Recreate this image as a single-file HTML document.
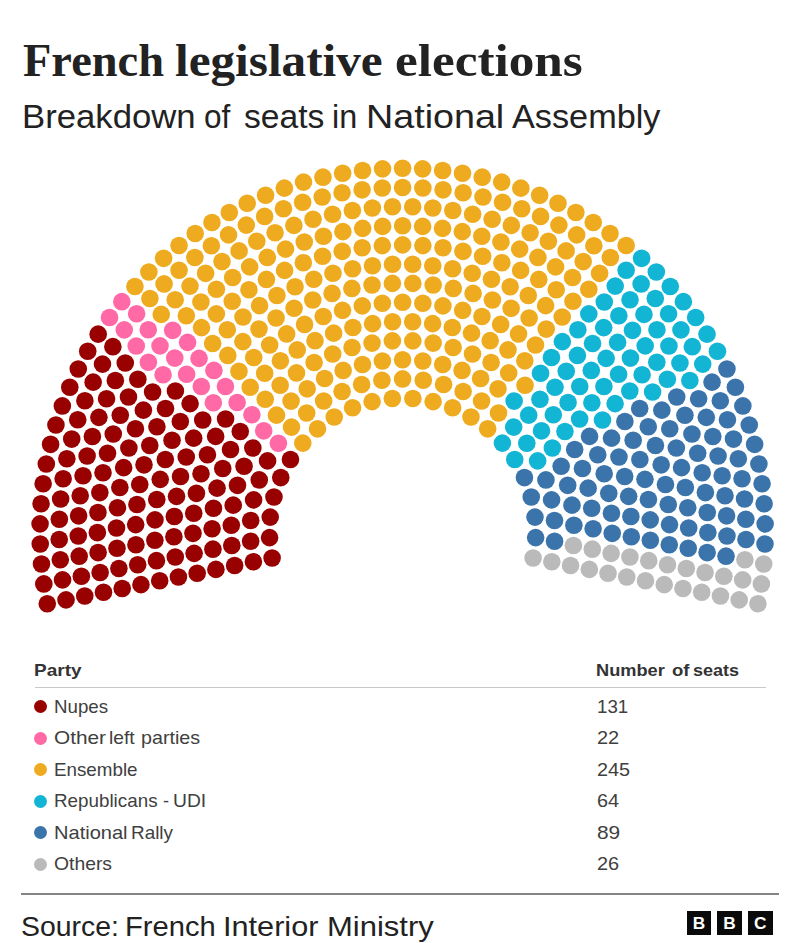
<!DOCTYPE html>
<html><head><meta charset="utf-8"><title>French legislative elections</title>
<style>
html,body{margin:0;padding:0;background:#fff;}
body{width:800px;height:943px;position:relative;overflow:hidden;font-family:"Liberation Sans",sans-serif;color:#222;}
.abs{position:absolute;white-space:nowrap;line-height:1;transform-origin:0 0;}
.serif{font-family:"Liberation Serif",serif;font-weight:bold;}
.b{font-weight:bold;}
#chart{position:absolute;left:0;top:0;}
.hr1{position:absolute;left:35px;width:731px;top:686.8px;height:1.2px;background:#c9c9c9;}
.hr2{position:absolute;left:21.3px;width:757.7px;top:892.6px;height:2px;background:#858585;}
.ld{position:absolute;width:13px;height:13px;border-radius:50%;}
.bbc{position:absolute;top:910.8px;width:24.5px;height:24.5px;background:#0a0a0a;color:#fff;font-weight:bold;font-size:17.3px;text-align:center;line-height:24.5px;}
</style></head><body>
<svg id="chart" width="800" height="943" viewBox="0 0 800 943">
<g fill="#990000"><circle cx="47.28" cy="603.69" r="8.80"/><circle cx="66.02" cy="599.88" r="8.80"/><circle cx="84.75" cy="596.07" r="8.80"/><circle cx="103.49" cy="592.26" r="8.80"/><circle cx="122.22" cy="588.44" r="8.80"/><circle cx="140.96" cy="584.63" r="8.80"/><circle cx="159.70" cy="580.82" r="8.80"/><circle cx="178.43" cy="577.01" r="8.80"/><circle cx="197.17" cy="573.20" r="8.80"/><circle cx="215.90" cy="569.38" r="8.80"/><circle cx="234.64" cy="565.57" r="8.80"/><circle cx="253.38" cy="561.76" r="8.80"/><circle cx="272.11" cy="557.95" r="8.80"/><circle cx="43.82" cy="583.92" r="8.80"/><circle cx="62.56" cy="579.90" r="8.80"/><circle cx="81.35" cy="576.20" r="8.80"/><circle cx="100.14" cy="572.51" r="8.80"/><circle cx="118.89" cy="568.45" r="8.80"/><circle cx="137.69" cy="564.78" r="8.80"/><circle cx="156.45" cy="560.66" r="8.80"/><circle cx="175.28" cy="557.00" r="8.80"/><circle cx="194.11" cy="553.36" r="8.80"/><circle cx="212.91" cy="549.16" r="8.80"/><circle cx="41.47" cy="563.99" r="8.80"/><circle cx="60.29" cy="559.74" r="8.80"/><circle cx="231.78" cy="545.54" r="8.80"/><circle cx="79.19" cy="556.16" r="8.80"/><circle cx="98.10" cy="552.59" r="8.80"/><circle cx="250.64" cy="541.21" r="8.80"/><circle cx="116.98" cy="548.27" r="8.80"/><circle cx="135.93" cy="544.73" r="8.80"/><circle cx="269.58" cy="537.61" r="8.80"/><circle cx="154.88" cy="540.30" r="8.80"/><circle cx="40.22" cy="543.96" r="8.80"/><circle cx="59.22" cy="539.49" r="8.80"/><circle cx="173.90" cy="536.79" r="8.80"/><circle cx="78.27" cy="536.02" r="8.80"/><circle cx="192.97" cy="533.33" r="8.80"/><circle cx="97.36" cy="532.58" r="8.80"/><circle cx="116.50" cy="528.00" r="8.80"/><circle cx="212.10" cy="528.73" r="8.80"/><circle cx="40.08" cy="523.87" r="8.80"/><circle cx="135.69" cy="524.60" r="8.80"/><circle cx="59.34" cy="519.20" r="8.80"/><circle cx="231.31" cy="525.31" r="8.80"/><circle cx="154.99" cy="519.87" r="8.80"/><circle cx="78.61" cy="515.84" r="8.80"/><circle cx="97.94" cy="512.54" r="8.80"/><circle cx="174.32" cy="516.52" r="8.80"/><circle cx="250.71" cy="520.46" r="8.80"/><circle cx="41.05" cy="503.80" r="8.80"/><circle cx="117.46" cy="507.72" r="8.80"/><circle cx="193.74" cy="513.25" r="8.80"/><circle cx="60.65" cy="498.93" r="8.80"/><circle cx="136.96" cy="504.49" r="8.80"/><circle cx="270.21" cy="517.11" r="8.80"/><circle cx="80.20" cy="495.72" r="8.80"/><circle cx="213.48" cy="508.30" r="8.80"/><circle cx="99.83" cy="492.58" r="8.80"/><circle cx="156.78" cy="499.50" r="8.80"/><circle cx="43.13" cy="483.81" r="8.80"/><circle cx="63.16" cy="478.78" r="8.80"/><circle cx="119.85" cy="487.57" r="8.80"/><circle cx="176.53" cy="496.35" r="8.80"/><circle cx="233.22" cy="505.14" r="8.80"/><circle cx="83.04" cy="475.73" r="8.80"/><circle cx="139.73" cy="484.53" r="8.80"/><circle cx="196.43" cy="493.34" r="8.80"/><circle cx="46.31" cy="463.96" r="8.80"/><circle cx="103.02" cy="472.79" r="8.80"/><circle cx="253.61" cy="499.90" r="8.80"/><circle cx="160.23" cy="479.35" r="8.80"/><circle cx="66.86" cy="458.81" r="8.80"/><circle cx="123.66" cy="467.63" r="8.80"/><circle cx="217.04" cy="488.14" r="8.80"/><circle cx="87.11" cy="455.96" r="8.80"/><circle cx="50.58" cy="444.33" r="8.80"/><circle cx="180.51" cy="476.47" r="8.80"/><circle cx="144.01" cy="464.84" r="8.80"/><circle cx="107.51" cy="453.24" r="8.80"/><circle cx="273.96" cy="496.94" r="8.80"/><circle cx="71.72" cy="439.09" r="8.80"/><circle cx="237.49" cy="485.34" r="8.80"/><circle cx="201.01" cy="473.77" r="8.80"/><circle cx="165.33" cy="459.55" r="8.80"/><circle cx="128.87" cy="448.01" r="8.80"/><circle cx="92.40" cy="436.48" r="8.80"/><circle cx="55.93" cy="424.95" r="8.80"/><circle cx="113.26" cy="434.04" r="8.80"/><circle cx="149.75" cy="445.53" r="8.80"/><circle cx="77.74" cy="419.70" r="8.80"/><circle cx="186.24" cy="457.01" r="8.80"/><circle cx="222.74" cy="468.48" r="8.80"/><circle cx="259.26" cy="479.92" r="8.80"/><circle cx="62.34" cy="405.91" r="8.80"/><circle cx="98.89" cy="417.37" r="8.80"/><circle cx="135.45" cy="428.81" r="8.80"/><circle cx="207.44" cy="454.74" r="8.80"/><circle cx="172.04" cy="440.24" r="8.80"/><circle cx="84.88" cy="400.70" r="8.80"/><circle cx="120.26" cy="415.25" r="8.80"/><circle cx="244.06" cy="466.18" r="8.80"/><circle cx="156.92" cy="426.70" r="8.80"/><circle cx="69.80" cy="387.25" r="8.80"/><circle cx="280.77" cy="477.58" r="8.80"/><circle cx="193.66" cy="438.13" r="8.80"/><circle cx="106.55" cy="398.70" r="8.80"/><circle cx="143.37" cy="410.13" r="8.80"/><circle cx="230.51" cy="449.54" r="8.80"/><circle cx="93.14" cy="382.15" r="8.80"/><circle cx="128.47" cy="396.96" r="8.80"/><circle cx="180.32" cy="421.54" r="8.80"/><circle cx="78.27" cy="369.03" r="8.80"/><circle cx="215.65" cy="436.40" r="8.80"/><circle cx="165.49" cy="408.47" r="8.80"/><circle cx="267.57" cy="460.90" r="8.80"/><circle cx="115.35" cy="380.54" r="8.80"/><circle cx="102.48" cy="364.12" r="8.80"/><circle cx="152.60" cy="392.05" r="8.80"/><circle cx="202.72" cy="419.99" r="8.80"/><circle cx="252.84" cy="447.93" r="8.80"/><circle cx="87.74" cy="351.31" r="8.80"/><circle cx="137.86" cy="379.25" r="8.80"/><circle cx="190.10" cy="403.60" r="8.80"/><circle cx="125.26" cy="362.96" r="8.80"/><circle cx="240.26" cy="431.54" r="8.80"/><circle cx="175.41" cy="390.94" r="8.80"/><circle cx="225.58" cy="418.94" r="8.80"/><circle cx="112.86" cy="346.67" r="8.80"/><circle cx="290.46" cy="459.50" r="8.80"/><circle cx="98.18" cy="334.14" r="8.80"/></g>
<g fill="#ff6aa6"><circle cx="163.08" cy="374.68" r="8.80"/><circle cx="148.39" cy="362.20" r="8.80"/><circle cx="213.34" cy="402.72" r="8.80"/><circle cx="136.25" cy="346.03" r="8.80"/><circle cx="278.39" cy="443.18" r="8.80"/><circle cx="201.32" cy="386.52" r="8.80"/><circle cx="124.25" cy="329.87" r="8.80"/><circle cx="263.70" cy="430.84" r="8.80"/><circle cx="186.62" cy="374.20" r="8.80"/><circle cx="109.54" cy="317.57" r="8.80"/><circle cx="174.76" cy="358.09" r="8.80"/><circle cx="160.02" cy="345.87" r="8.80"/><circle cx="251.88" cy="414.70" r="8.80"/><circle cx="237.13" cy="402.50" r="8.80"/><circle cx="148.26" cy="329.82" r="8.80"/><circle cx="121.81" cy="301.66" r="8.80"/><circle cx="136.61" cy="313.77" r="8.80"/><circle cx="225.45" cy="386.46" r="8.80"/><circle cx="199.06" cy="358.36" r="8.80"/><circle cx="213.91" cy="370.42" r="8.80"/><circle cx="172.69" cy="330.34" r="8.80"/><circle cx="187.58" cy="342.37" r="8.80"/></g>
<g fill="#efab1f"><circle cx="302.80" cy="443.12" r="8.80"/><circle cx="161.25" cy="314.39" r="8.80"/><circle cx="134.93" cy="286.45" r="8.80"/><circle cx="149.90" cy="298.43" r="8.80"/><circle cx="276.50" cy="415.15" r="8.80"/><circle cx="291.51" cy="427.10" r="8.80"/><circle cx="250.19" cy="387.25" r="8.80"/><circle cx="265.24" cy="399.20" r="8.80"/><circle cx="238.95" cy="371.34" r="8.80"/><circle cx="212.65" cy="343.50" r="8.80"/><circle cx="186.34" cy="315.68" r="8.80"/><circle cx="227.79" cy="355.41" r="8.80"/><circle cx="201.49" cy="327.60" r="8.80"/><circle cx="175.18" cy="299.80" r="8.80"/><circle cx="148.87" cy="272.00" r="8.80"/><circle cx="164.07" cy="283.91" r="8.80"/><circle cx="200.93" cy="301.95" r="8.80"/><circle cx="163.60" cy="258.34" r="8.80"/><circle cx="264.65" cy="373.32" r="8.80"/><circle cx="227.32" cy="329.71" r="8.80"/><circle cx="189.99" cy="286.10" r="8.80"/><circle cx="179.07" cy="270.24" r="8.80"/><circle cx="216.40" cy="313.85" r="8.80"/><circle cx="253.73" cy="357.47" r="8.80"/><circle cx="291.06" cy="401.08" r="8.80"/><circle cx="242.84" cy="341.60" r="8.80"/><circle cx="280.17" cy="385.22" r="8.80"/><circle cx="317.51" cy="428.83" r="8.80"/><circle cx="306.69" cy="412.95" r="8.80"/><circle cx="179.05" cy="245.51" r="8.80"/><circle cx="216.39" cy="289.20" r="8.80"/><circle cx="205.62" cy="273.34" r="8.80"/><circle cx="194.85" cy="257.49" r="8.80"/><circle cx="242.99" cy="317.06" r="8.80"/><circle cx="232.25" cy="301.20" r="8.80"/><circle cx="280.38" cy="360.84" r="8.80"/><circle cx="269.68" cy="344.96" r="8.80"/><circle cx="258.98" cy="329.08" r="8.80"/><circle cx="195.19" cy="233.56" r="8.80"/><circle cx="211.36" cy="245.69" r="8.80"/><circle cx="222.00" cy="261.59" r="8.80"/><circle cx="232.65" cy="277.49" r="8.80"/><circle cx="296.52" cy="372.92" r="8.80"/><circle cx="307.17" cy="388.83" r="8.80"/><circle cx="248.95" cy="289.70" r="8.80"/><circle cx="259.56" cy="305.63" r="8.80"/><circle cx="211.96" cy="222.53" r="8.80"/><circle cx="323.64" cy="401.01" r="8.80"/><circle cx="334.23" cy="416.97" r="8.80"/><circle cx="276.10" cy="317.93" r="8.80"/><circle cx="228.53" cy="234.88" r="8.80"/><circle cx="286.67" cy="333.92" r="8.80"/><circle cx="239.09" cy="250.88" r="8.80"/><circle cx="297.22" cy="349.91" r="8.80"/><circle cx="249.64" cy="266.88" r="8.80"/><circle cx="229.32" cy="212.44" r="8.80"/><circle cx="266.43" cy="279.41" r="8.80"/><circle cx="276.94" cy="295.49" r="8.80"/><circle cx="314.09" cy="362.45" r="8.80"/><circle cx="246.31" cy="225.11" r="8.80"/><circle cx="324.61" cy="378.56" r="8.80"/><circle cx="256.81" cy="241.25" r="8.80"/><circle cx="267.29" cy="257.41" r="8.80"/><circle cx="294.07" cy="308.23" r="8.80"/><circle cx="247.21" cy="203.32" r="8.80"/><circle cx="304.57" cy="324.42" r="8.80"/><circle cx="315.03" cy="340.66" r="8.80"/><circle cx="284.58" cy="270.39" r="8.80"/><circle cx="295.04" cy="286.68" r="8.80"/><circle cx="264.63" cy="216.41" r="8.80"/><circle cx="342.07" cy="391.47" r="8.80"/><circle cx="275.09" cy="232.74" r="8.80"/><circle cx="285.52" cy="249.11" r="8.80"/><circle cx="265.58" cy="195.22" r="8.80"/><circle cx="352.58" cy="407.82" r="8.80"/><circle cx="332.68" cy="353.93" r="8.80"/><circle cx="312.78" cy="300.04" r="8.80"/><circle cx="283.43" cy="208.80" r="8.80"/><circle cx="303.33" cy="262.68" r="8.80"/><circle cx="323.24" cy="316.55" r="8.80"/><circle cx="343.14" cy="370.42" r="8.80"/><circle cx="293.86" cy="225.38" r="8.80"/><circle cx="313.75" cy="279.26" r="8.80"/><circle cx="333.65" cy="333.15" r="8.80"/><circle cx="284.36" cy="188.14" r="8.80"/><circle cx="304.25" cy="242.03" r="8.80"/><circle cx="302.65" cy="202.32" r="8.80"/><circle cx="332.10" cy="293.42" r="8.80"/><circle cx="322.58" cy="256.31" r="8.80"/><circle cx="313.05" cy="219.21" r="8.80"/><circle cx="303.51" cy="182.11" r="8.80"/><circle cx="361.61" cy="384.54" r="8.80"/><circle cx="352.07" cy="347.44" r="8.80"/><circle cx="342.53" cy="310.36" r="8.80"/><circle cx="332.97" cy="273.28" r="8.80"/><circle cx="323.41" cy="236.20" r="8.80"/><circle cx="352.89" cy="327.45" r="8.80"/><circle cx="322.22" cy="196.99" r="8.80"/><circle cx="362.49" cy="364.53" r="8.80"/><circle cx="372.10" cy="401.60" r="8.80"/><circle cx="322.96" cy="177.16" r="8.80"/><circle cx="332.59" cy="214.24" r="8.80"/><circle cx="342.23" cy="251.33" r="8.80"/><circle cx="351.90" cy="288.42" r="8.80"/><circle cx="342.91" cy="231.63" r="8.80"/><circle cx="352.58" cy="268.76" r="8.80"/><circle cx="342.07" cy="192.82" r="8.80"/><circle cx="362.29" cy="305.90" r="8.80"/><circle cx="342.66" cy="173.29" r="8.80"/><circle cx="372.05" cy="343.08" r="8.80"/><circle cx="352.40" cy="210.50" r="8.80"/><circle cx="372.59" cy="323.63" r="8.80"/><circle cx="362.19" cy="247.75" r="8.80"/><circle cx="381.91" cy="380.32" r="8.80"/><circle cx="362.66" cy="228.36" r="8.80"/><circle cx="372.04" cy="285.07" r="8.80"/><circle cx="362.13" cy="189.84" r="8.80"/><circle cx="382.40" cy="360.96" r="8.80"/><circle cx="372.47" cy="265.73" r="8.80"/><circle cx="362.54" cy="170.52" r="8.80"/><circle cx="372.40" cy="208.00" r="8.80"/><circle cx="382.36" cy="303.22" r="8.80"/><circle cx="392.35" cy="398.45" r="8.80"/><circle cx="382.34" cy="245.60" r="8.80"/><circle cx="382.59" cy="226.39" r="8.80"/><circle cx="382.33" cy="188.04" r="8.80"/><circle cx="382.54" cy="168.85" r="8.80"/><circle cx="392.38" cy="340.89" r="8.80"/><circle cx="392.57" cy="321.71" r="8.80"/><circle cx="392.39" cy="283.38" r="8.80"/><circle cx="392.54" cy="264.22" r="8.80"/><circle cx="392.52" cy="206.74" r="8.80"/><circle cx="402.60" cy="168.29" r="8.80"/><circle cx="402.60" cy="187.44" r="8.80"/><circle cx="402.60" cy="225.73" r="8.80"/><circle cx="402.60" cy="244.88" r="8.80"/><circle cx="402.60" cy="302.32" r="8.80"/><circle cx="402.60" cy="359.76" r="8.80"/><circle cx="402.60" cy="378.91" r="8.80"/><circle cx="412.68" cy="206.74" r="8.80"/><circle cx="412.66" cy="264.22" r="8.80"/><circle cx="412.81" cy="283.38" r="8.80"/><circle cx="412.63" cy="321.71" r="8.80"/><circle cx="412.82" cy="340.89" r="8.80"/><circle cx="422.66" cy="168.85" r="8.80"/><circle cx="422.87" cy="188.04" r="8.80"/><circle cx="422.61" cy="226.39" r="8.80"/><circle cx="422.86" cy="245.60" r="8.80"/><circle cx="412.85" cy="398.45" r="8.80"/><circle cx="422.84" cy="303.22" r="8.80"/><circle cx="432.80" cy="208.00" r="8.80"/><circle cx="442.66" cy="170.52" r="8.80"/><circle cx="432.73" cy="265.73" r="8.80"/><circle cx="443.07" cy="189.84" r="8.80"/><circle cx="422.80" cy="360.96" r="8.80"/><circle cx="433.16" cy="285.07" r="8.80"/><circle cx="442.54" cy="228.36" r="8.80"/><circle cx="423.29" cy="380.32" r="8.80"/><circle cx="443.01" cy="247.75" r="8.80"/><circle cx="432.61" cy="323.63" r="8.80"/><circle cx="452.80" cy="210.50" r="8.80"/><circle cx="433.15" cy="343.08" r="8.80"/><circle cx="462.54" cy="173.29" r="8.80"/><circle cx="463.13" cy="192.82" r="8.80"/><circle cx="442.91" cy="305.90" r="8.80"/><circle cx="452.62" cy="268.76" r="8.80"/><circle cx="462.29" cy="231.63" r="8.80"/><circle cx="453.30" cy="288.42" r="8.80"/><circle cx="462.97" cy="251.33" r="8.80"/><circle cx="472.61" cy="214.24" r="8.80"/><circle cx="482.24" cy="177.16" r="8.80"/><circle cx="433.10" cy="401.60" r="8.80"/><circle cx="482.98" cy="196.99" r="8.80"/><circle cx="442.71" cy="364.53" r="8.80"/><circle cx="452.31" cy="327.45" r="8.80"/><circle cx="481.79" cy="236.20" r="8.80"/><circle cx="472.23" cy="273.28" r="8.80"/><circle cx="462.67" cy="310.36" r="8.80"/><circle cx="453.13" cy="347.44" r="8.80"/><circle cx="443.59" cy="384.54" r="8.80"/><circle cx="501.69" cy="182.11" r="8.80"/><circle cx="492.15" cy="219.21" r="8.80"/><circle cx="482.62" cy="256.31" r="8.80"/><circle cx="473.10" cy="293.42" r="8.80"/><circle cx="502.55" cy="202.32" r="8.80"/><circle cx="500.95" cy="242.03" r="8.80"/><circle cx="520.84" cy="188.14" r="8.80"/><circle cx="471.55" cy="333.15" r="8.80"/><circle cx="491.45" cy="279.26" r="8.80"/><circle cx="511.34" cy="225.38" r="8.80"/><circle cx="521.77" cy="208.80" r="8.80"/><circle cx="501.87" cy="262.68" r="8.80"/><circle cx="481.96" cy="316.55" r="8.80"/><circle cx="462.06" cy="370.42" r="8.80"/><circle cx="492.42" cy="300.04" r="8.80"/><circle cx="472.52" cy="353.93" r="8.80"/><circle cx="452.62" cy="407.82" r="8.80"/><circle cx="539.62" cy="195.22" r="8.80"/><circle cx="519.68" cy="249.11" r="8.80"/><circle cx="530.11" cy="232.74" r="8.80"/><circle cx="463.13" cy="391.47" r="8.80"/><circle cx="540.57" cy="216.41" r="8.80"/><circle cx="510.16" cy="286.68" r="8.80"/><circle cx="520.62" cy="270.39" r="8.80"/><circle cx="490.17" cy="340.66" r="8.80"/><circle cx="557.99" cy="203.32" r="8.80"/><circle cx="500.63" cy="324.42" r="8.80"/><circle cx="511.13" cy="308.23" r="8.80"/><circle cx="537.91" cy="257.41" r="8.80"/><circle cx="548.39" cy="241.25" r="8.80"/><circle cx="558.89" cy="225.11" r="8.80"/><circle cx="480.59" cy="378.56" r="8.80"/><circle cx="491.11" cy="362.45" r="8.80"/><circle cx="528.26" cy="295.49" r="8.80"/><circle cx="538.77" cy="279.41" r="8.80"/><circle cx="575.88" cy="212.44" r="8.80"/><circle cx="555.56" cy="266.88" r="8.80"/><circle cx="507.98" cy="349.91" r="8.80"/><circle cx="566.11" cy="250.88" r="8.80"/><circle cx="576.67" cy="234.88" r="8.80"/><circle cx="518.53" cy="333.92" r="8.80"/><circle cx="529.10" cy="317.93" r="8.80"/><circle cx="470.97" cy="416.97" r="8.80"/><circle cx="481.56" cy="401.01" r="8.80"/><circle cx="593.24" cy="222.53" r="8.80"/><circle cx="545.64" cy="305.63" r="8.80"/><circle cx="556.25" cy="289.70" r="8.80"/><circle cx="593.84" cy="245.69" r="8.80"/><circle cx="583.20" cy="261.59" r="8.80"/><circle cx="572.55" cy="277.49" r="8.80"/><circle cx="508.68" cy="372.92" r="8.80"/><circle cx="498.03" cy="388.83" r="8.80"/><circle cx="610.01" cy="233.56" r="8.80"/><circle cx="546.22" cy="329.08" r="8.80"/><circle cx="535.52" cy="344.96" r="8.80"/><circle cx="524.82" cy="360.84" r="8.80"/><circle cx="572.95" cy="301.20" r="8.80"/><circle cx="562.21" cy="317.06" r="8.80"/><circle cx="610.35" cy="257.49" r="8.80"/><circle cx="599.58" cy="273.34" r="8.80"/><circle cx="588.81" cy="289.20" r="8.80"/><circle cx="626.15" cy="245.51" r="8.80"/><circle cx="498.51" cy="412.95" r="8.80"/><circle cx="487.69" cy="428.83" r="8.80"/><circle cx="525.03" cy="385.22" r="8.80"/></g>
<g fill="#13b5d4"><circle cx="562.36" cy="341.60" r="8.80"/><circle cx="626.13" cy="270.24" r="8.80"/><circle cx="588.80" cy="313.85" r="8.80"/><circle cx="551.47" cy="357.47" r="8.80"/><circle cx="514.14" cy="401.08" r="8.80"/><circle cx="615.21" cy="286.10" r="8.80"/><circle cx="577.88" cy="329.71" r="8.80"/><circle cx="540.55" cy="373.32" r="8.80"/><circle cx="641.60" cy="258.34" r="8.80"/><circle cx="604.27" cy="301.95" r="8.80"/><circle cx="641.13" cy="283.91" r="8.80"/><circle cx="656.33" cy="272.00" r="8.80"/><circle cx="630.02" cy="299.80" r="8.80"/><circle cx="603.71" cy="327.60" r="8.80"/><circle cx="577.41" cy="355.41" r="8.80"/><circle cx="618.86" cy="315.68" r="8.80"/><circle cx="592.55" cy="343.50" r="8.80"/><circle cx="566.25" cy="371.34" r="8.80"/><circle cx="539.96" cy="399.20" r="8.80"/><circle cx="555.01" cy="387.25" r="8.80"/><circle cx="513.69" cy="427.10" r="8.80"/><circle cx="655.30" cy="298.43" r="8.80"/><circle cx="528.70" cy="415.15" r="8.80"/><circle cx="670.27" cy="286.45" r="8.80"/><circle cx="643.95" cy="314.39" r="8.80"/><circle cx="502.40" cy="443.12" r="8.80"/><circle cx="617.62" cy="342.37" r="8.80"/><circle cx="632.51" cy="330.34" r="8.80"/><circle cx="591.29" cy="370.42" r="8.80"/><circle cx="606.14" cy="358.36" r="8.80"/><circle cx="683.39" cy="301.66" r="8.80"/><circle cx="668.59" cy="313.77" r="8.80"/><circle cx="579.75" cy="386.46" r="8.80"/><circle cx="656.94" cy="329.82" r="8.80"/><circle cx="568.07" cy="402.50" r="8.80"/><circle cx="553.32" cy="414.70" r="8.80"/><circle cx="645.18" cy="345.87" r="8.80"/><circle cx="630.44" cy="358.09" r="8.80"/><circle cx="695.66" cy="317.57" r="8.80"/><circle cx="618.58" cy="374.20" r="8.80"/><circle cx="680.95" cy="329.87" r="8.80"/><circle cx="541.50" cy="430.84" r="8.80"/><circle cx="603.88" cy="386.52" r="8.80"/><circle cx="526.81" cy="443.18" r="8.80"/><circle cx="668.95" cy="346.03" r="8.80"/><circle cx="591.86" cy="402.72" r="8.80"/><circle cx="656.81" cy="362.20" r="8.80"/><circle cx="642.12" cy="374.68" r="8.80"/><circle cx="707.02" cy="334.14" r="8.80"/><circle cx="514.74" cy="459.50" r="8.80"/><circle cx="692.34" cy="346.67" r="8.80"/><circle cx="579.62" cy="418.94" r="8.80"/><circle cx="629.79" cy="390.94" r="8.80"/><circle cx="564.94" cy="431.54" r="8.80"/><circle cx="679.94" cy="362.96" r="8.80"/><circle cx="615.10" cy="403.60" r="8.80"/><circle cx="667.34" cy="379.25" r="8.80"/><circle cx="717.46" cy="351.31" r="8.80"/><circle cx="702.72" cy="364.12" r="8.80"/><circle cx="652.60" cy="392.05" r="8.80"/><circle cx="602.48" cy="419.99" r="8.80"/><circle cx="552.36" cy="447.93" r="8.80"/><circle cx="689.85" cy="380.54" r="8.80"/><circle cx="537.63" cy="460.90" r="8.80"/></g>
<g fill="#3b74ab"><circle cx="639.71" cy="408.47" r="8.80"/><circle cx="589.55" cy="436.40" r="8.80"/><circle cx="726.93" cy="369.03" r="8.80"/><circle cx="624.88" cy="421.54" r="8.80"/><circle cx="676.73" cy="396.96" r="8.80"/><circle cx="712.06" cy="382.15" r="8.80"/><circle cx="574.69" cy="449.54" r="8.80"/><circle cx="661.83" cy="410.13" r="8.80"/><circle cx="698.65" cy="398.70" r="8.80"/><circle cx="611.54" cy="438.13" r="8.80"/><circle cx="524.43" cy="477.58" r="8.80"/><circle cx="735.40" cy="387.25" r="8.80"/><circle cx="648.28" cy="426.70" r="8.80"/><circle cx="720.32" cy="400.70" r="8.80"/><circle cx="684.94" cy="415.25" r="8.80"/><circle cx="561.14" cy="466.18" r="8.80"/><circle cx="633.16" cy="440.24" r="8.80"/><circle cx="597.76" cy="454.74" r="8.80"/><circle cx="669.75" cy="428.81" r="8.80"/><circle cx="706.31" cy="417.37" r="8.80"/><circle cx="742.86" cy="405.91" r="8.80"/><circle cx="545.94" cy="479.92" r="8.80"/><circle cx="582.46" cy="468.48" r="8.80"/><circle cx="727.46" cy="419.70" r="8.80"/><circle cx="618.96" cy="457.01" r="8.80"/><circle cx="655.45" cy="445.53" r="8.80"/><circle cx="691.94" cy="434.04" r="8.80"/><circle cx="749.27" cy="424.95" r="8.80"/><circle cx="712.80" cy="436.48" r="8.80"/><circle cx="676.33" cy="448.01" r="8.80"/><circle cx="639.87" cy="459.55" r="8.80"/><circle cx="604.19" cy="473.77" r="8.80"/><circle cx="733.48" cy="439.09" r="8.80"/><circle cx="567.71" cy="485.34" r="8.80"/><circle cx="531.24" cy="496.94" r="8.80"/><circle cx="697.69" cy="453.24" r="8.80"/><circle cx="661.19" cy="464.84" r="8.80"/><circle cx="754.62" cy="444.33" r="8.80"/><circle cx="624.69" cy="476.47" r="8.80"/><circle cx="718.09" cy="455.96" r="8.80"/><circle cx="588.16" cy="488.14" r="8.80"/><circle cx="681.54" cy="467.63" r="8.80"/><circle cx="738.34" cy="458.81" r="8.80"/><circle cx="644.97" cy="479.35" r="8.80"/><circle cx="551.59" cy="499.90" r="8.80"/><circle cx="702.18" cy="472.79" r="8.80"/><circle cx="758.89" cy="463.96" r="8.80"/><circle cx="608.77" cy="493.34" r="8.80"/><circle cx="665.47" cy="484.53" r="8.80"/><circle cx="722.16" cy="475.73" r="8.80"/><circle cx="742.04" cy="478.78" r="8.80"/><circle cx="685.35" cy="487.57" r="8.80"/><circle cx="628.67" cy="496.35" r="8.80"/><circle cx="571.98" cy="505.14" r="8.80"/><circle cx="762.07" cy="483.81" r="8.80"/><circle cx="648.42" cy="499.50" r="8.80"/><circle cx="705.37" cy="492.58" r="8.80"/><circle cx="591.72" cy="508.30" r="8.80"/><circle cx="725.00" cy="495.72" r="8.80"/><circle cx="534.99" cy="517.11" r="8.80"/><circle cx="668.24" cy="504.49" r="8.80"/><circle cx="744.55" cy="498.93" r="8.80"/><circle cx="611.46" cy="513.25" r="8.80"/><circle cx="687.74" cy="507.72" r="8.80"/><circle cx="764.15" cy="503.80" r="8.80"/><circle cx="554.49" cy="520.46" r="8.80"/><circle cx="630.88" cy="516.52" r="8.80"/><circle cx="707.26" cy="512.54" r="8.80"/><circle cx="726.59" cy="515.84" r="8.80"/><circle cx="650.21" cy="519.87" r="8.80"/><circle cx="745.86" cy="519.20" r="8.80"/><circle cx="573.89" cy="525.31" r="8.80"/><circle cx="669.51" cy="524.60" r="8.80"/><circle cx="765.12" cy="523.87" r="8.80"/><circle cx="593.10" cy="528.73" r="8.80"/><circle cx="688.70" cy="528.00" r="8.80"/><circle cx="707.84" cy="532.58" r="8.80"/><circle cx="612.23" cy="533.33" r="8.80"/><circle cx="726.93" cy="536.02" r="8.80"/><circle cx="745.98" cy="539.49" r="8.80"/><circle cx="631.30" cy="536.79" r="8.80"/><circle cx="764.98" cy="543.96" r="8.80"/><circle cx="650.32" cy="540.30" r="8.80"/><circle cx="535.62" cy="537.61" r="8.80"/><circle cx="669.27" cy="544.73" r="8.80"/><circle cx="688.22" cy="548.27" r="8.80"/><circle cx="554.56" cy="541.21" r="8.80"/><circle cx="707.10" cy="552.59" r="8.80"/><circle cx="726.01" cy="556.16" r="8.80"/></g>
<g fill="#bababa"><circle cx="744.91" cy="559.74" r="8.80"/><circle cx="573.42" cy="545.54" r="8.80"/><circle cx="763.73" cy="563.99" r="8.80"/><circle cx="592.29" cy="549.16" r="8.80"/><circle cx="611.09" cy="553.36" r="8.80"/><circle cx="629.92" cy="557.00" r="8.80"/><circle cx="648.75" cy="560.66" r="8.80"/><circle cx="667.51" cy="564.78" r="8.80"/><circle cx="686.31" cy="568.45" r="8.80"/><circle cx="705.06" cy="572.51" r="8.80"/><circle cx="723.85" cy="576.20" r="8.80"/><circle cx="742.64" cy="579.90" r="8.80"/><circle cx="761.38" cy="583.92" r="8.80"/><circle cx="757.92" cy="603.69" r="8.80"/><circle cx="739.18" cy="599.88" r="8.80"/><circle cx="720.45" cy="596.07" r="8.80"/><circle cx="701.71" cy="592.26" r="8.80"/><circle cx="682.98" cy="588.44" r="8.80"/><circle cx="664.24" cy="584.63" r="8.80"/><circle cx="645.50" cy="580.82" r="8.80"/><circle cx="626.77" cy="577.01" r="8.80"/><circle cx="608.03" cy="573.20" r="8.80"/><circle cx="589.30" cy="569.38" r="8.80"/><circle cx="570.56" cy="565.57" r="8.80"/><circle cx="551.82" cy="561.76" r="8.80"/><circle cx="533.09" cy="557.95" r="8.80"/></g>
</svg>
<div id="title_0" class="abs serif" style="left:23.00px;top:37.89px;font-size:45.80px;color:#222;transform:scaleX(1.0138)">French</div>
<div id="title_1" class="abs serif" style="left:175.20px;top:37.89px;font-size:45.80px;color:#222;transform:scaleX(1.0739)">legislative</div>
<div id="title_2" class="abs serif" style="left:395.00px;top:37.89px;font-size:45.80px;color:#222;transform:scaleX(1.1187)">elections</div>
<div id="sub_0" class="abs " style="left:21.50px;top:100.66px;font-size:32.30px;color:#222;transform:scaleX(1.0744)">Breakdown</div>
<div id="sub_1" class="abs " style="left:204.20px;top:100.66px;font-size:32.30px;color:#222;transform:scaleX(0.9763)">of</div>
<div id="sub_2" class="abs " style="left:243.90px;top:100.66px;font-size:32.30px;color:#222;transform:scaleX(1.0396)">seats</div>
<div id="sub_3" class="abs " style="left:332.20px;top:100.66px;font-size:32.30px;color:#222;transform:scaleX(1.0023)">in</div>
<div id="sub_4" class="abs " style="left:366.00px;top:100.66px;font-size:32.30px;color:#222;transform:scaleX(1.1666)">National</div>
<div id="sub_5" class="abs " style="left:512.00px;top:100.66px;font-size:32.30px;color:#222;transform:scaleX(1.0607)">Assembly</div>
<div id="th1_0" class="abs b" style="left:34.00px;top:662.45px;font-size:16.30px;color:#333;transform:scaleX(1.1669)">Party</div>
<div id="th2_0" class="abs b" style="left:596.00px;top:662.45px;font-size:16.30px;color:#333;transform:scaleX(1.1173)">Number</div>
<div id="th2_1" class="abs b" style="left:671.75px;top:662.45px;font-size:16.30px;color:#333;transform:scaleX(1.1382)">of</div>
<div id="th2_2" class="abs b" style="left:693.00px;top:662.45px;font-size:16.30px;color:#333;transform:scaleX(1.1055)">seats</div>
<div id="l0_0" class="abs " style="left:54.00px;top:698.53px;font-size:17.80px;color:#404040;transform:scaleX(1.0513)">Nupes</div>
<div id="n0_0" class="abs " style="left:597.00px;top:698.53px;font-size:17.80px;color:#404040;transform:scaleX(1.0523)">131</div>
<div id="l1_0" class="abs " style="left:54.00px;top:730.03px;font-size:17.80px;color:#404040;transform:scaleX(1.1700)">Other</div>
<div id="l1_1" class="abs " style="left:109.00px;top:730.03px;font-size:17.80px;color:#404040;transform:scaleX(1.0849)">left</div>
<div id="l1_2" class="abs " style="left:141.00px;top:730.03px;font-size:17.80px;color:#404040;transform:scaleX(1.1061)">parties</div>
<div id="n1_0" class="abs " style="left:597.00px;top:730.03px;font-size:17.80px;color:#404040;transform:scaleX(1.1234)">22</div>
<div id="l2_0" class="abs " style="left:54.00px;top:761.53px;font-size:17.80px;color:#404040;transform:scaleX(1.0564)">Ensemble</div>
<div id="n2_0" class="abs " style="left:597.00px;top:761.53px;font-size:17.80px;color:#404040;transform:scaleX(1.1147)">245</div>
<div id="l3_0" class="abs " style="left:54.00px;top:793.03px;font-size:17.80px;color:#404040;transform:scaleX(1.0580)">Republicans</div>
<div id="l3_1" class="abs " style="left:163.25px;top:793.03px;font-size:17.80px;color:#404040;transform:scaleX(1.0132)">-</div>
<div id="l3_2" class="abs " style="left:173.00px;top:793.03px;font-size:17.80px;color:#404040;transform:scaleX(1.0848)">UDI</div>
<div id="n3_0" class="abs " style="left:597.00px;top:793.03px;font-size:17.80px;color:#404040;transform:scaleX(1.1147)">64</div>
<div id="l4_0" class="abs " style="left:54.00px;top:824.53px;font-size:17.80px;color:#404040;transform:scaleX(1.1276)">National</div>
<div id="l4_1" class="abs " style="left:131.00px;top:824.53px;font-size:17.80px;color:#404040;transform:scaleX(1.0631)">Rally</div>
<div id="n4_0" class="abs " style="left:597.00px;top:824.53px;font-size:17.80px;color:#404040;transform:scaleX(1.1734)">89</div>
<div id="l5_0" class="abs " style="left:54.00px;top:856.03px;font-size:17.80px;color:#404040;transform:scaleX(1.0870)">Others</div>
<div id="n5_0" class="abs " style="left:597.00px;top:856.03px;font-size:17.80px;color:#404040;transform:scaleX(1.1200)">26</div>
<div id="src_0" class="abs " style="left:21.20px;top:912.70px;font-size:28.00px;color:#222;transform:scaleX(1.0144)">Source:</div>
<div id="src_1" class="abs " style="left:124.90px;top:912.70px;font-size:28.00px;color:#222;transform:scaleX(1.0415)">French</div>
<div id="src_2" class="abs " style="left:223.20px;top:912.70px;font-size:28.00px;color:#222;transform:scaleX(1.0953)">Interior</div>
<div id="src_3" class="abs " style="left:326.80px;top:912.70px;font-size:28.00px;color:#222;transform:scaleX(1.1076)">Ministry</div>
<div class="hr1"></div>
<div class="ld" style="left:34.3px;top:700.10px;background:#990000"></div>
<div class="ld" style="left:34.3px;top:731.60px;background:#ff6aa6"></div>
<div class="ld" style="left:34.3px;top:763.10px;background:#efab1f"></div>
<div class="ld" style="left:34.3px;top:794.60px;background:#13b5d4"></div>
<div class="ld" style="left:34.3px;top:826.10px;background:#3b74ab"></div>
<div class="ld" style="left:34.3px;top:857.60px;background:#bababa"></div>
<div class="hr2"></div>
<div class="bbc" style="left:686.7px;">B</div>
<div class="bbc" style="left:717.3px;">B</div>
<div class="bbc" style="left:748px;">C</div>
</body></html>
